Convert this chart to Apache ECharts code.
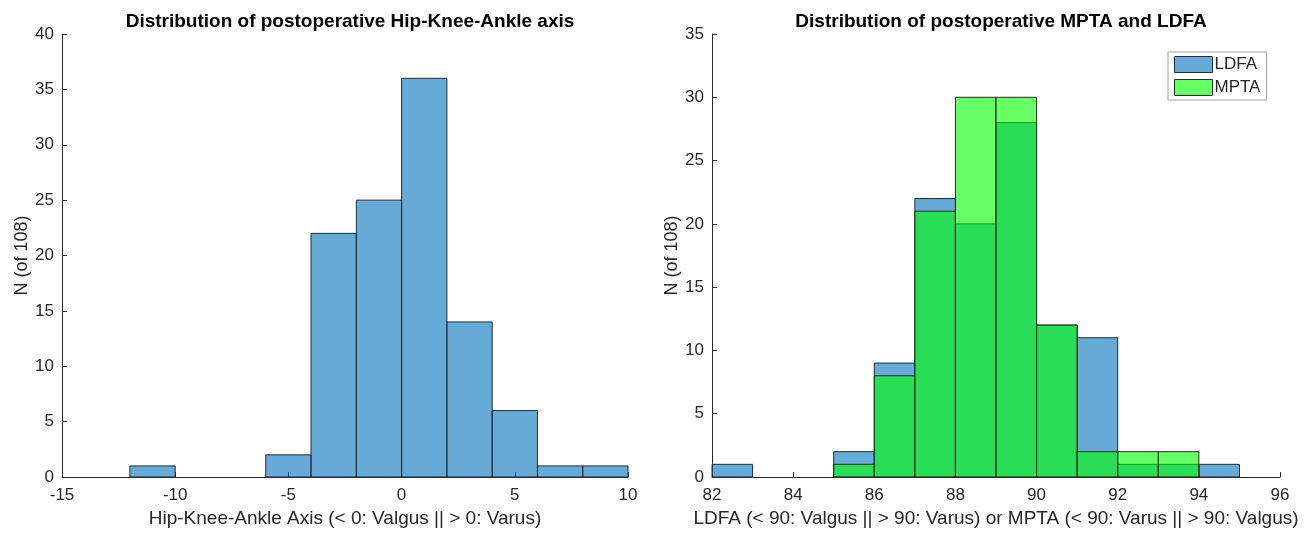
<!DOCTYPE html>
<html>
<head>
<meta charset="utf-8">
<script src="https://cdn.jsdelivr.net/npm/echarts@6/dist/echarts.min.js"></script>
<style>html,body{margin:0;padding:0;background:#fff}#c{width:1309px;height:533px}</style>
</head>
<body>
<div id="c"></div>
<script>
// ---- data ----
const hkaBinStarts = [-12, -10, -8, -6, -4, -2, 0, 2, 4, 6, 8];
const hkaBinWidth = 2;
const hkaCounts = [1, 0, 0, 2, 22, 25, 36, 14, 6, 1, 1];

const angleBinStarts = [82, 83, 84, 85, 86, 87, 88, 89, 90, 91, 92, 93, 94];
const angleBinWidth = 1;
const ldfaCounts = [1, 0, 0, 2, 9, 22, 20, 28, 12, 11, 1, 1, 1];
const mptaCounts = [0, 0, 0, 1, 8, 21, 30, 30, 12, 2, 2, 2, 0];

const leftTitle = 'Distribution of postoperative Hip-Knee-Ankle axis';
const rightTitle = 'Distribution of postoperative MPTA and LDFA';
const leftXName = 'Hip-Knee-Ankle Axis (< 0: Valgus || > 0: Varus)';
const rightXName = 'LDFA (< 90: Valgus || > 90: Varus) or MPTA (< 90: Varus || > 90: Valgus)';
const yName = 'N (of 108)';

// ---- build ----
function binData(starts, width, counts) {
  return starts.map((s, i) => [s, s + width, counts[i]]);
}
const FONT = '"Liberation Sans", Arial, sans-serif';
const AX = '#262626';
const BLUE = 'rgba(0,114,189,0.6)';
const GREEN = 'rgba(0,255,0,0.6)';

function histRender(fill) {
  return function (params, api) {
    const y = api.value(2);
    if (!y) return null;
    const p0 = api.coord([api.value(0), y]);
    const p1 = api.coord([api.value(1), 0]);
    return {
      type: 'rect',
      shape: { x: p0[0], y: p0[1], width: p1[0] - p0[0], height: p1[1] - p0[1] },
      style: { fill: fill, stroke: '#2a2a2a', lineWidth: 1 }
    };
  };
}

function xAxis(gi, min, max, interval, name) {
  return {
    type: 'value', gridIndex: gi, min, max, interval,
    name, nameLocation: 'middle', nameGap: 32,
    nameTextStyle: { fontFamily: FONT, fontSize: 19, color: AX },
    axisLine: { show: true, onZero: false, lineStyle: { color: AX, width: 1 } },
    axisTick: { show: true, inside: true, length: 5, lineStyle: { color: AX } },
    axisLabel: { fontFamily: FONT, fontSize: 17, color: AX, margin: 10 },
    splitLine: { show: false }
  };
}
function yAxis(gi, min, max, interval) {
  return {
    type: 'value', gridIndex: gi, min, max, interval,
    name: yName, nameLocation: 'middle', nameGap: 28, nameRotate: 90,
    nameTextStyle: { fontFamily: FONT, fontSize: 18, color: AX },
    axisLine: { show: true, onZero: false, lineStyle: { color: AX, width: 1 } },
    axisTick: { show: true, inside: true, length: 5, lineStyle: { color: AX } },
    axisLabel: { fontFamily: FONT, fontSize: 17, color: AX, margin: 8 },
    splitLine: { show: false }
  };
}

const chart = echarts.init(document.getElementById('c'), null, { renderer: 'canvas' });
chart.setOption({
  animation: false,
  backgroundColor: '#fff',
  title: [
    { text: leftTitle, left: 345, top: 7, textAlign: 'center',
      textStyle: { fontFamily: FONT, fontSize: 19, fontWeight: 'bold', color: '#000' } },
    { text: rightTitle, left: 996, top: 7, textAlign: 'center',
      textStyle: { fontFamily: FONT, fontSize: 19, fontWeight: 'bold', color: '#000' } }
  ],
  legend: {
    left: 1168, top: 52, orient: 'vertical',
    itemWidth: 38, itemHeight: 16, itemGap: 6,
    padding: [4, 6, 4, 6],
    borderColor: '#a0a0a0', borderWidth: 1, backgroundColor: '#fff',
    textStyle: { fontFamily: FONT, fontSize: 17, color: AX, padding: [0, 0, 0, -3] },
    data: [
      { name: 'LDFA', icon: 'rect', itemStyle: { color: BLUE, borderColor: '#2a2a2a', borderWidth: 1 } },
      { name: 'MPTA', icon: 'rect', itemStyle: { color: GREEN, borderColor: '#2a2a2a', borderWidth: 1 } }
    ]
  },
  grid: [
    { left: 62, right: 681, top: 34, bottom: 53 },
    { left: 712, right: 29, top: 34, bottom: 52 }
  ],
  xAxis: [
    xAxis(0, -15, 10, 5, leftXName),
    xAxis(1, 82, 96, 2, rightXName)
  ],
  yAxis: [
    yAxis(0, 0, 40, 5),
    yAxis(1, 0, 35, 5)
  ],
  series: [
    { type: 'custom', name: 'HKA', xAxisIndex: 0, yAxisIndex: 0,
      renderItem: histRender(BLUE), encode: { x: [0, 1], y: 2 },
      data: binData(hkaBinStarts, hkaBinWidth, hkaCounts) },
    { type: 'custom', name: 'LDFA', xAxisIndex: 1, yAxisIndex: 1,
      itemStyle: { color: BLUE },
      renderItem: histRender(BLUE), encode: { x: [0, 1], y: 2 },
      data: binData(angleBinStarts, angleBinWidth, ldfaCounts) },
    { type: 'custom', name: 'MPTA', xAxisIndex: 1, yAxisIndex: 1,
      itemStyle: { color: GREEN },
      renderItem: histRender(GREEN), encode: { x: [0, 1], y: 2 },
      data: binData(angleBinStarts, angleBinWidth, mptaCounts) }
  ]
});
</script>
</body>
</html>
